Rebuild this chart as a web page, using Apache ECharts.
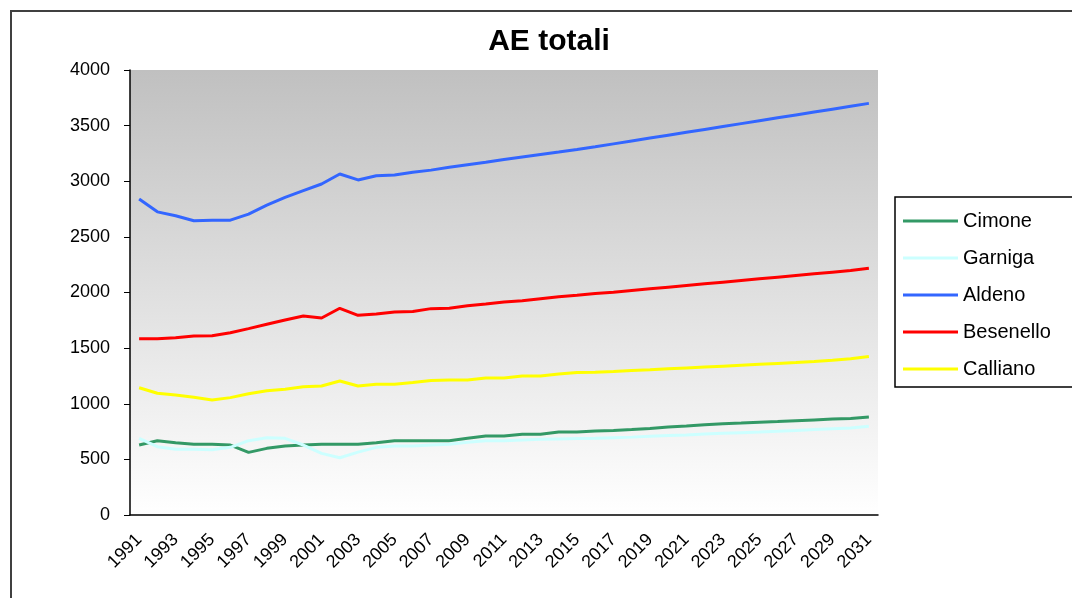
<!DOCTYPE html>
<html><head><meta charset="utf-8">
<script src="https://cdn.jsdelivr.net/npm/echarts@6/dist/echarts.min.js"></script>
<style>html,body{margin:0;padding:0;background:#fff}#c{width:1072px;height:598px}</style>
</head><body><div id="c"></div>
<script>
const years = ['1991','1992','1993','1994','1995','1996','1997','1998','1999','2000','2001','2002','2003','2004','2005','2006','2007','2008','2009','2010','2011','2012','2013','2014','2015','2016','2017','2018','2019','2020','2021','2022','2023','2024','2025','2026','2027','2028','2029','2030','2031'];
const cimone = [629,668,650,635,635,629,563,599,620,629,635,635,635,650,668,668,668,668,689,710,710,725,725,746,746,755,760,768,778,790,800,812,820,826,833,840,848,855,862,868,880];
const garniga = [689,614,591,591,587,608,668,695,689,629,554,515,565,608,620,620,629,635,653,668,668,675,680,684,687,690,695,700,708,715,720,728,735,740,745,752,760,768,775,782,798];
const aldeno = [2840,2725,2690,2645,2650,2650,2705,2785,2855,2915,2975,3065,3012,3050,3056,3080,3100,3125,3148,3170,3195,3218,3240,3262,3285,3310,3336,3362,3388,3414,3440,3466,3492,3518,3544,3570,3596,3622,3648,3674,3700];
const besenello = [1585,1585,1594,1609,1612,1639,1675,1714,1753,1789,1771,1858,1795,1807,1825,1829,1855,1859,1881,1897,1915,1926,1944,1962,1975,1990,2003,2018,2033,2048,2063,2078,2093,2108,2123,2138,2153,2168,2183,2198,2218];
const calliano = [1144,1094,1079,1058,1034,1055,1090,1117,1130,1153,1160,1205,1160,1175,1175,1190,1208,1214,1214,1232,1232,1250,1250,1268,1280,1283,1290,1298,1305,1314,1322,1330,1338,1346,1354,1362,1370,1380,1392,1405,1425];
const seriesNames = ['Cimone','Garniga','Aldeno','Besenello','Calliano'];
const seriesColors = ['#339966','#CCFFFF','#3366FF','#FF0000','#FFFF00'];
const seriesData = [cimone, garniga, aldeno, besenello, calliano];

const chart = echarts.init(document.getElementById('c'), null, {renderer:'canvas'});
const font = 'Liberation Sans, Arial, sans-serif';
chart.setOption({
  animation:false,
  backgroundColor:'#fff',
  title:{text:'AE totali', left:544, top:22, textAlign:'center',
    textStyle:{fontFamily:font, fontWeight:'bold', fontSize:30, color:'#000'}},
  graphic:[{type:'rect', shape:{x:11, y:11, width:1100, height:700},
    style:{fill:null, stroke:'#404040', lineWidth:2}, silent:true, z:-1}],
  legend:{orient:'vertical', left:895, top:197, width:200,
    data:seriesNames, icon:'rect', itemWidth:55, itemHeight:3, itemGap:19,
    padding:[14,30,8,8], borderColor:'#000', borderWidth:1.5, backgroundColor:'#fff',
    textStyle:{fontFamily:font, fontSize:20, color:'#000', lineHeight:18},
    itemGap:17},
  grid:{left:130, top:70, right:194, bottom:83, show:true, borderWidth:0,
    backgroundColor:new echarts.graphic.LinearGradient(0,0,0,1,[{offset:0,color:'#c0c0c0'},{offset:1,color:'#ffffff'}])},
  xAxis:{type:'category', data:years, boundaryGap:true,
    axisLine:{lineStyle:{color:'#000', width:1.5}},
    axisTick:{interval:0, length:6, lineStyle:{color:'#000'}},
    axisLabel:{interval:1, rotate:45, fontFamily:font, fontSize:18, color:'#000', margin:22},
    splitLine:{show:false}},
  yAxis:{type:'value', min:0, max:4000, interval:500,
    axisLine:{show:true, lineStyle:{color:'#000', width:1.5}},
    axisTick:{show:true, length:6, lineStyle:{color:'#000'}},
    axisLabel:{fontFamily:font, fontSize:18, color:'#000', margin:20, formatter:v=>String(v)},
    splitLine:{show:false}},
  series: seriesNames.map((n,i)=>({name:n, type:'line', data:seriesData[i],
    symbol:'none', color:seriesColors[i], lineStyle:{width:3, color:seriesColors[i]}}))
});
</script></body></html>
